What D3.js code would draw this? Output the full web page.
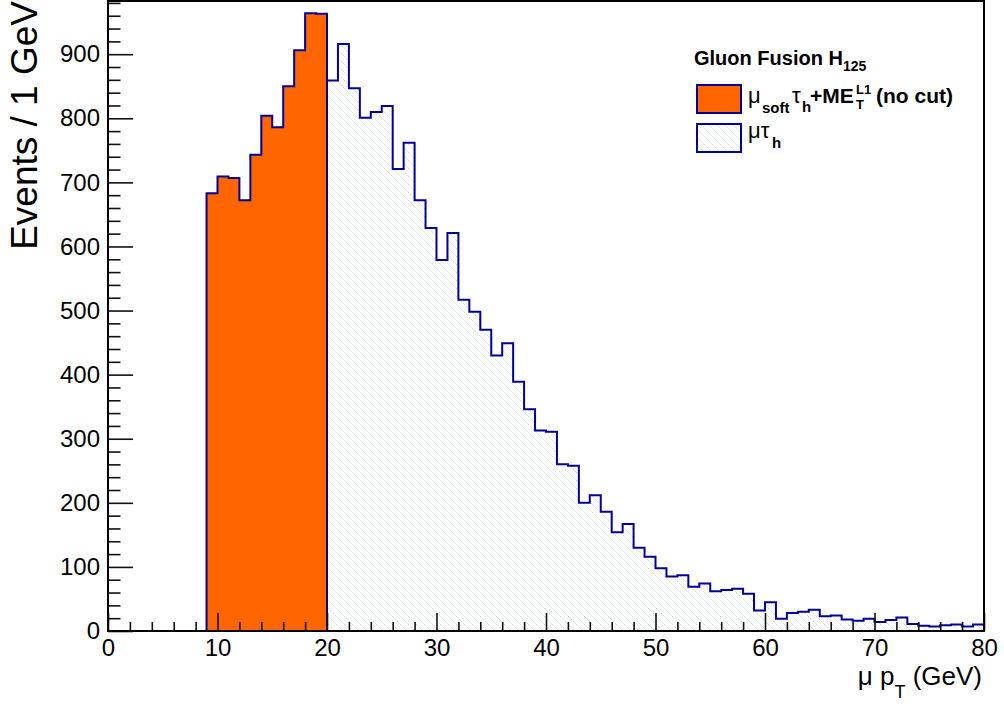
<!DOCTYPE html>
<html lang="en">
<head>
<meta charset="UTF-8">
<title>mu pT - Gluon Fusion H125</title>
<script src="https://d3js.org/d3.v7.min.js"></script>
<style>
  body { margin: 0; background: #fff; }
  svg { display: block; font-family: "Liberation Sans", Arial, Helvetica, sans-serif; }
</style>
</head>
<body>
<div id="chart"></div>
<script>
// bin contents, 1 GeV bins
const softLow = 0;   // mu_soft tau_h + MET(L1), bins 0..19 GeV
const softCounts = [0, 0, 0, 0, 0, 0, 0, 0, 0, 683,
                    709, 707, 672, 743, 804, 786, 850, 906, 964, 963];
const muTauLow = 20; // mu tau_h, bins 20..79 GeV
const muTauCounts = [859, 916, 847, 801, 810, 819, 721, 762, 672, 629,
                     579, 621, 517, 498, 470, 430, 449, 389, 346, 313,
                     311, 260, 258, 200, 212, 186, 154, 167, 130, 116,
                     98, 85, 87, 69, 74, 62, 64, 66, 58, 32,
                     45, 19, 28, 30, 33, 23, 24, 18, 16, 19,
                     14, 17, 21, 11, 8, 7, 9, 10, 7, 10];
const xMajor = [0, 10, 20, 30, 40, 50, 60, 70, 80];
const yMajor = [0, 100, 200, 300, 400, 500, 600, 700, 800, 900];

const width = 1004, height = 704;
const plotL = 108, plotR = 984, plotT = 1, plotB = 631;
const lineCol = "#000099";

const svg = d3.select("#chart").append("svg")
    .attr("width", width).attr("height", height);

svg.append("rect").attr("width", width).attr("height", height).attr("fill", "#fff");

// hatch pattern for the mu tau_h histogram
const defs = svg.append("defs");
defs.append("pattern")
    .attr("id", "hatch")
    .attr("patternUnits", "userSpaceOnUse")
    .attr("width", 8).attr("height", 8)
  .append("path")
    .attr("d", "M-2,6 L2,10 M0,0 L8,8 M6,-2 L10,2")
    .attr("stroke", "#a9c8ac")
    .attr("stroke-width", 0.8)
    .attr("stroke-dasharray", "1.1,1.3");

const x = d3.scaleLinear().domain([0, 80]).range([plotL, plotR]);
const y = d3.scaleLinear().domain([0, 983]).range([plotB, plotT]);

function histPoints(low, counts) {
  const pts = [[low, 0]];
  counts.forEach((c, i) => pts.push([low + i, c]));
  const hi = low + counts.length;
  pts.push([hi, counts[counts.length - 1]]);
  pts.push([hi, 0]);
  return pts;
}

const step = d3.line()
    .x(d => x(d[0]))
    .y(d => y(d[1]))
    .curve(d3.curveStepAfter);

// mu tau_h (hatched)
svg.append("path")
    .attr("d", step(histPoints(muTauLow, muTauCounts)) + "Z")
    .attr("fill", "url(#hatch)")
    .attr("stroke", lineCol)
    .attr("stroke-width", 2);

// mu_soft tau_h + MET (orange)
svg.append("path")
    .attr("d", step(histPoints(softLow, softCounts)) + "Z")
    .attr("fill", "#ff6600")
    .attr("stroke", lineCol)
    .attr("stroke-width", 2);

// axes
const yMinor = d3.range(0, 983, 20).filter(v => v % 100 !== 0);
const xMinor = d3.range(0, 81, 2).filter(v => v % 10 !== 0);

function styleAxis(g, size) {
  g.select(".domain").remove();
  g.selectAll(".tick line").attr("stroke", "#111").attr("stroke-width", 1.6);
  g.selectAll(".tick text").attr("fill", "#000").style("font-size", size);
}

svg.append("g")
    .attr("transform", `translate(${plotL},0)`)
    .call(d3.axisLeft(y).tickValues(yMajor).tickSize(-25).tickPadding(8).tickFormat(d3.format("d")))
    .call(g => styleAxis(g, "24px"));
svg.append("g")
    .attr("transform", `translate(${plotL},0)`)
    .call(d3.axisLeft(y).tickValues(yMinor).tickSize(-12.5).tickFormat(""))
    .call(g => styleAxis(g, "0px"));

svg.append("g")
    .attr("transform", `translate(0,${plotB})`)
    .call(d3.axisBottom(x).tickValues(xMajor).tickSize(-18).tickPadding(8).tickFormat(d3.format("d")))
    .call(g => styleAxis(g, "24px"));
svg.append("g")
    .attr("transform", `translate(0,${plotB})`)
    .call(d3.axisBottom(x).tickValues(xMinor).tickSize(-9).tickFormat(""))
    .call(g => styleAxis(g, "0px"));

// frame
svg.append("rect")
    .attr("x", plotL).attr("y", plotT)
    .attr("width", plotR - plotL).attr("height", plotB - plotT)
    .attr("fill", "none").attr("stroke", "#000").attr("stroke-width", 2);

// axis titles
svg.append("text")
    .attr("transform", "translate(37,1) rotate(-90)")
    .attr("text-anchor", "end")
    .style("font-size", "37px")
    .text("Events / 1 GeV");

const xt = svg.append("text")
    .attr("x", 982).attr("y", 685)
    .attr("text-anchor", "end")
    .style("font-size", "26px");
xt.append("tspan").text("\u03bc p");
xt.append("tspan").attr("dy", 13).style("font-size", "18px").text("T");
xt.append("tspan").attr("dy", -13).text(" (GeV)");

// legend
const leg = svg.append("g");
const lt = leg.append("text")
    .attr("x", 694).attr("y", 65)
    .style("font-size", "20px").style("font-weight", "bold");
lt.append("tspan").text("Gluon Fusion H");
lt.append("tspan").attr("dy", 6).style("font-size", "14px").text("125");

const legendEntries = [
  { fill: "#ff6600", y: 85 },
  { fill: "url(#hatch)", y: 124 }
];
leg.selectAll("rect.box")
    .data(legendEntries)
    .join("rect")
    .attr("class", "box")
    .attr("x", 697).attr("y", d => d.y)
    .attr("width", 44).attr("height", 28)
    .attr("fill", d => d.fill)
    .attr("stroke", lineCol).attr("stroke-width", 2);

function legText(xp, yp, str, opts = {}) {
  return leg.append("text")
      .attr("x", xp).attr("y", yp)
      .style("font-size", (opts.size || 21) + "px")
      .style("font-weight", opts.normal ? "normal" : "bold")
      .text(str);
}
// entry 1: mu_soft tau_h + ME_T^L1 (no cut)
legText(748, 103, "\u03bc", { normal: true, size: 22 });
legText(762, 113, "soft", { size: 15 });
legText(792, 103, "\u03c4", { normal: true, size: 22 });
legText(802, 112, "h", { size: 15 });
legText(810, 103, "+ME");
legText(856, 109, "T", { size: 13 });
legText(856, 94, "L1", { size: 13 });
legText(876, 103, "(no cut)");
// entry 2: mu tau_h
legText(748, 138, "\u03bc\u03c4", { normal: true, size: 22 });
legText(772, 148, "h", { size: 15 });
</script>
</body>
</html>
